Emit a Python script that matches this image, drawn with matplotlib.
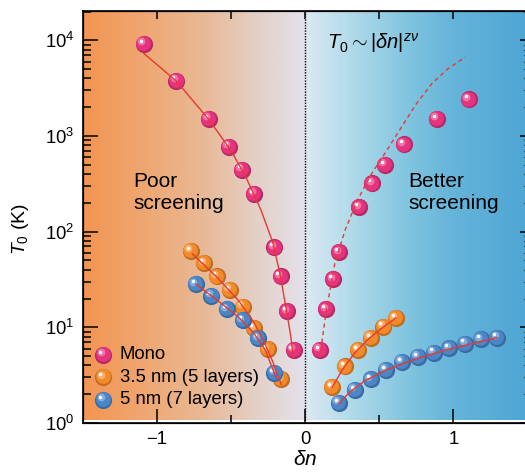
import numpy as np
import matplotlib
matplotlib.use("Agg")
import matplotlib.pyplot as plt
import matplotlib.transforms as mtransforms
from matplotlib.colors import to_rgb

plt.rcParams['font.family'] = ['Liberation Sans', 'DejaVu Sans']
plt.rcParams['mathtext.fontset'] = 'custom'
plt.rcParams['mathtext.rm'] = 'Liberation Sans'
plt.rcParams['mathtext.it'] = 'Liberation Sans:italic'
plt.rcParams['mathtext.bf'] = 'Liberation Sans:bold'

# ---- data ----
mono_l_x = [-1.09, -0.87, -0.65, -0.517, -0.429, -0.344, -0.208, -0.167, -0.122, -0.079]
mono_l_y = [9250, 3800, 1510, 776, 446, 248, 68.5, 34, 14.8, 5.8]
mono_r_x = [0.097, 0.142, 0.188, 0.228, 0.364, 0.452, 0.538, 0.666, 0.888, 1.103]
mono_r_y = [5.8, 15.5, 32, 61, 180, 320, 500, 815, 1515, 2410]

nm35_l_x = [-0.773, -0.683, -0.597, -0.508, -0.422, -0.344, -0.253, -0.163]
nm35_l_y = [63, 47, 34, 24.6, 16.5, 9.8, 5.9, 2.87]
nm35_r_x = [0.181, 0.267, 0.357, 0.441, 0.527, 0.612]
nm35_r_y = [2.4, 3.9, 5.8, 7.8, 10.2, 12.5]

nm5_l_x = [-0.739, -0.633, -0.531, -0.422, -0.317, -0.208]
nm5_l_y = [28.3, 21.4, 15.5, 11.9, 7.7, 3.36]
nm5_r_x = [0.226, 0.334, 0.441, 0.544, 0.651, 0.759, 0.866, 0.972, 1.08, 1.186, 1.295]
nm5_r_y = [1.63, 2.22, 2.87, 3.59, 4.35, 4.91, 5.45, 6.06, 6.77, 7.52, 7.82]

# fit curves
fit_mono_l_x = [-1.09, -0.87, -0.65, -0.5, -0.4, -0.3, -0.22, -0.17, -0.13, -0.1, -0.079]
fit_mono_l_y = [7300, 3750, 1480, 700, 370, 170, 78, 36, 16, 8.5, 4.8]
fit_mono_r_x = [0.097, 0.142, 0.199, 0.267, 0.35, 0.447, 0.55, 0.651, 0.75, 0.854, 0.96, 1.08]
fit_mono_r_y = [4.8, 14.9, 46, 102, 210, 402, 705, 1250, 2175, 3520, 5000, 6680]
fit_35_l_x = [-0.761, -0.6, -0.45, -0.35, -0.28, -0.22, -0.163]
fit_35_l_y = [58.5, 34, 19, 11.5, 7.2, 4.4, 2.54]
fit_35_r_x = [0.181, 0.25, 0.33, 0.42, 0.52, 0.612]
fit_35_r_y = [2.34, 3.6, 5.3, 7.4, 9.9, 12.5]
fit_5_l_x = [-0.739, -0.6, -0.45, -0.35, -0.27, -0.197]
fit_5_l_y = [28.3, 19.5, 12.8, 8.8, 5.8, 2.98]
fit_5_r_x = [0.226, 0.3, 0.4, 0.55, 0.75, 0.95, 1.15, 1.295]
fit_5_r_y = [1.59, 2.1, 2.75, 3.6, 4.7, 5.8, 6.9, 7.8]

series = [
    ("Mono", "#E6337E"),
    ("3.5 nm (5 layers)", "#F28A2A"),
    ("5 nm (7 layers)", "#4A86C8"),
]

fig = plt.figure(figsize=(5.25, 4.74), dpi=100)
pos = [83 / 525, 1 - 423 / 474, (527.5 - 83) / 525, (423 - 10.5) / 474]

# background gradient
bg = fig.add_axes(pos, zorder=0)
stops_x = [-1.5, -1.2, -0.7, -0.3, -0.001, 0.001, 0.3, 0.7, 1.0, 1.5]
stops_c = ["#F39552", "#F0A268", "#E9B894", "#E3D2CB", "#E3E2EC",
           "#DCE9F3", "#B2DBEA", "#80C4DF", "#65B4DA", "#4EA6D3"]
gx = np.linspace(-1.5, 1.5, 600)
rgb = np.array([to_rgb(c) for c in stops_c])
grad = np.stack([np.interp(gx, stops_x, rgb[:, k]) for k in range(3)], axis=-1)[None, :, :]
bg.imshow(grad, aspect='auto', extent=[-1.5, 1.5, 0.008, 1], interpolation='bilinear')
bg.set_xlim(-1.5, 1.5)
bg.set_ylim(0, 1)
bg.axis('off')

ax = fig.add_axes(pos, zorder=1)
ax.patch.set_visible(False)
ax.set_yscale('log')
ax.set_xlim(-1.5, 1.5)
ax.set_ylim(1, 2.05e4)


def shade(c, f):
    r = np.array(to_rgb(c))
    if f < 1:
        return tuple(r * f)
    return tuple(r + (1 - r) * (f - 1))


def off(tr, dx, dy):
    return mtransforms.offset_copy(tr, fig=fig, x=dx, y=dy, units='points')


def spheres(x, y, c, tr=None, s=12.4):
    if tr is None:
        tr = ax.transData
    ax.plot(x, y, 'o', ms=s, color=shade(c, 0.8), mec='none', transform=tr, zorder=3, clip_on=False)
    ax.plot(x, y, 'o', ms=s * 0.86, color=c, mec='none', transform=off(tr, -0.6, 0.6), zorder=3, clip_on=False)
    ax.plot(x, y, 'o', ms=s * 0.45, color=shade(c, 1.4), mec='none', alpha=0.8,
            transform=off(tr, -1.8, 1.8), zorder=3, clip_on=False)
    ax.plot(x, y, 'o', ms=s * 0.2, color='white', mec='none',
            transform=off(tr, -2.2, 2.2), zorder=3, clip_on=False)


spheres(mono_l_x + mono_r_x, mono_l_y + mono_r_y, series[0][1])
spheres(nm35_l_x + nm35_r_x, nm35_l_y + nm35_r_y, series[1][1])
spheres(nm5_l_x + nm5_r_x, nm5_l_y + nm5_r_y, series[2][1])

red = "#E8382F"
ax.plot(fit_mono_l_x, fit_mono_l_y, color=red, lw=1.0, zorder=4)
ax.plot(fit_mono_r_x, fit_mono_r_y, color=red, lw=1.0, ls=(0, (3, 2.5)), zorder=4)
ax.plot(fit_35_l_x, fit_35_l_y, color=red, lw=1.0, zorder=4)
ax.plot(fit_35_r_x, fit_35_r_y, color=red, lw=1.0, zorder=4)
ax.plot(fit_5_l_x, fit_5_l_y, color=red, lw=1.0, zorder=4)
ax.plot(fit_5_r_x, fit_5_r_y, color=red, lw=1.0, zorder=4)

ax.axvline(0, color='black', lw=1.0, ls=(0, (1, 1)), zorder=2)

# legend drawn by hand
leg_y = [0.165, 0.111, 0.056]
for (name, col), ly in zip(series, leg_y):
    spheres([0.046], [ly], col, tr=ax.transAxes)
    ax.text(0.083, ly, name, transform=ax.transAxes, fontsize=13.3, va='center', ha='left')

ax.text(-1.16, 255, "Poor\nscreening", fontsize=15, va='center', ha='left', linespacing=1.22)
ax.text(0.696, 255, "Better\nscreening", fontsize=15, va='center', ha='left', linespacing=1.22)
ax.text(0.145, 9300, r"$T_0\sim|\delta n|^{z\nu}$", fontsize=14.5, va='center', ha='left')

ax.set_xticks([-1, 0, 1])
ax.set_xticklabels(["\u22121", "0", "1"])
ax.set_xticks([-0.5, 0.5], minor=True)
ax.tick_params(axis='both', which='both', direction='in', width=1.1, labelsize=13.3, top=False, right=False)
ax.tick_params(axis='x', which='major', length=10, pad=6)
ax.tick_params(axis='x', which='minor', length=5.5)
ax.tick_params(axis='y', which='major', length=11, pad=6)
ax.tick_params(axis='y', which='minor', length=5.8)
for sp in ax.spines.values():
    sp.set_linewidth(1.2)

ax.set_xlabel(r"$\delta n$", fontsize=15, labelpad=1)
ax.set_ylabel(r"$T_0$ (K)", fontsize=14)
ax.yaxis.set_label_coords(-0.118, 0.47)

axt = ax.twiny()
axt.set_xlim(ax.get_xlim())
axt.set_xticks([-1, -0.5, 0, 0.5, 1])
axt.tick_params(axis='x', direction='in', length=5.5, width=1.1, labeltop=False)
axr = ax.twinx()
axr.set_yscale('log')
axr.set_ylim(ax.get_ylim())
axr.tick_params(axis='y', which='major', direction='in', length=5.5, width=1.1, labelright=False)
axr.tick_params(axis='y', which='minor', direction='in', length=3, width=1.0)

fig.savefig("out.png", dpi=100)
